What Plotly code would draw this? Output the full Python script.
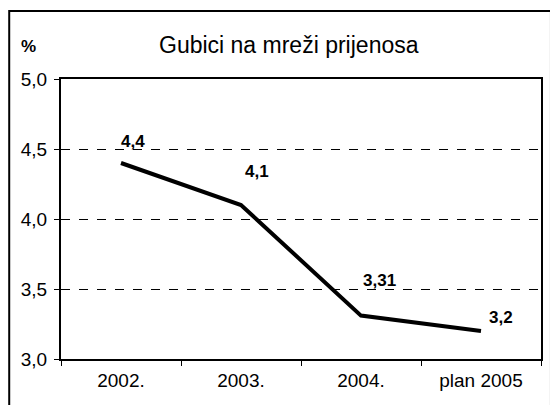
import plotly.graph_objects as go

years = ["2002.", "2003.", "2004.", "plan 2005"]
losses = [4.4, 4.1, 3.31, 3.2]
y_ticks = [3.0, 3.5, 4.0, 4.5, 5.0]

# label offsets in px (style only)
label_dx = [12, 16, 18, 20]
label_dy = [22, 34, 35, 14]

W, H = 550, 405
L, R, T, B = 61, 7, 79, 46
pw, ph = W - L - R, H - T - B


def px_x(p):
    return (p - L) / pw


def px_y(p):
    return (H - B - p) / ph


fig = go.Figure()
fig.add_trace(go.Scatter(
    x=years, y=losses, mode="lines",
    line=dict(color="black", width=4),
    hoverinfo="skip", showlegend=False,
))

# category positions by index ("2002." would be read as a number)
for i, (v, dx, dy) in enumerate(zip(losses, label_dx, label_dy)):
    fig.add_annotation(
        x=i, y=v, text=f"{v:g}".replace(".", ","), showarrow=False,
        xshift=dx, yshift=dy,
        font=dict(family="Liberation Sans", size=17, color="black", weight="bold"),
    )

fig.add_annotation(
    x=px_x(290), y=px_y(45), xref="paper", yref="paper",
    xanchor="center", yanchor="middle",
    text="Gubici na mreži prijenosa", showarrow=False,
    font=dict(family="Liberation Sans", size=23, color="black"),
)
fig.add_annotation(
    x=px_x(28), y=px_y(47), xref="paper", yref="paper",
    xanchor="center", yanchor="middle",
    text="%", showarrow=False,
    font=dict(family="Liberation Sans", size=17, color="black", weight="bold"),
)

# outer frame
fig.add_shape(
    type="rect", xref="paper", yref="paper",
    x0=px_x(9), x1=px_x(553), y0=px_y(408), y1=px_y(11),
    line=dict(color="black", width=2), layer="below",
)

fig.update_layout(
    width=W, height=H,
    margin=dict(l=L, r=R, t=T, b=B),
    paper_bgcolor="white", plot_bgcolor="white",
    separators=", ",
    font=dict(family="Liberation Sans", size=19, color="black"),
    xaxis=dict(
        type="category", range=[-0.5, 3.5],
        showline=True, linecolor="black", linewidth=2, mirror=True,
        ticks="outside", tickson="boundaries", ticklen=5, tickcolor="black",
        showgrid=False, tickfont=dict(size=19), ticklabelstandoff=3,
    ),
    yaxis=dict(
        range=[3.0, 5.0], tickvals=y_ticks, tickformat=".1f",
        showline=True, linecolor="black", linewidth=2, mirror=True,
        ticks="outside", ticklen=5, tickcolor="black",
        showgrid=True, gridcolor="black", gridwidth=1, griddash="dash",
        zeroline=False, tickfont=dict(size=19), ticklabelstandoff=3,
    ),
)

fig.write_html(
    "out.html",
    config={"displayModeBar": False},
    post_script="document.body.style.margin='0';",
)
